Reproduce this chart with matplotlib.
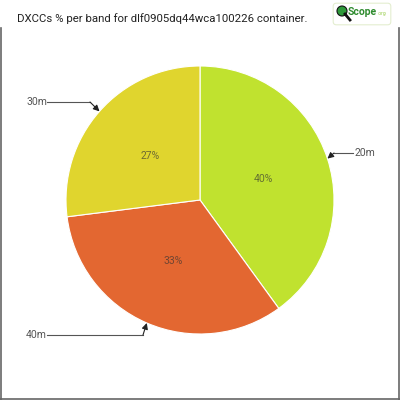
import numpy as np
import matplotlib.pyplot as plt
from matplotlib.patches import Circle, FancyBboxPatch

bands = ['20m', '40m', '30m']
shares = [40, 33, 27]
colors = ['#c0e22f', '#e36731', '#e0d52e']

# label / elbow positions in pixel space (figure is 400x400)
label_px = {'20m': (355, 153), '40m': (47, 335), '30m': (47, 102)}
elbow_px = {'20m': (334, 153), '40m': (143, 335), '30m': (90, 102)}
label_ha = {'20m': 'left', '40m': 'right', '30m': 'right'}

R = 134.0
def to_data(p):
    return ((p[0] - 200) / R, (200 - p[1]) / R)

fnt = ['Roboto', 'DejaVu Sans']

fig = plt.figure(figsize=(4, 4), dpi=100)
ax = fig.add_axes([0, 0, 1, 1])
lim = 200 / R

wedges, _ = ax.pie(shares, colors=colors, startangle=90, counterclock=False,
                   radius=1, center=(0, 0), frame=True,
                   wedgeprops=dict(edgecolor='white', linewidth=0.8))
ax.set_xlim(-lim, lim)
ax.set_ylim(-lim, lim)
ax.set_aspect('equal')
ax.axis('off')

for w, band, s in zip(wedges, bands, shares):
    mid = np.deg2rad((w.theta1 + w.theta2) / 2)
    # percent label
    ax.text(0.5 * np.cos(mid), 0.5 * np.sin(mid), f'{s}%', ha='center', va='center',
            fontsize=7.5, color='#333333', alpha=0.65, family=fnt)
    tip = (np.cos(mid), np.sin(mid))
    lx, ly = to_data(label_px[band])
    ex, ey = to_data(elbow_px[band])
    sx = lx - 2 / R if label_ha[band] == 'left' else lx
    ax.plot([sx, ex], [ly, ey], color='#555555', lw=0.8)
    ax.annotate('', xy=tip, xytext=(ex, ey),
                arrowprops=dict(arrowstyle='-|>', color='#222222', lw=0.8,
                                mutation_scale=9, shrinkA=0, shrinkB=0))
    ax.text(lx, ly, band, ha=label_ha[band], va='center', fontsize=7.5,
            color='#555555', family=fnt)

fig.text(17 / 400, 1 - 19 / 400, 'DXCCs % per band for dlf0905dq44wca100226 container.',
         ha='left', va='center', fontsize=8.2, color='#222222', family=fnt)

# frame lines
for xs, ys in [([0.003, 0.003], [0, 1 - 28 / 400]), ([0.997, 0.997], [0, 1 - 28 / 400]),
               ([0, 1], [0.003, 0.003])]:
    fig.add_artist(plt.Line2D(xs, ys, color='#666666', lw=1.2, transform=fig.transFigure))

# logo
fig.add_artist(FancyBboxPatch((334 / 400, 1 - 24 / 400), 56 / 400, 20 / 400,
                              boxstyle='round,pad=0.002,rounding_size=0.008',
                              transform=fig.transFigure, fc='white', ec='#e4eed0', lw=0.8))
fig.add_artist(plt.Line2D([345 / 400, 350 / 400], [1 - 14 / 400, 1 - 20 / 400],
                          color='#111111', lw=2, transform=fig.transFigure))
fig.add_artist(Circle((342 / 400, 1 - 11 / 400), 5 / 400, transform=fig.transFigure,
                      fc='#2e9a3a', ec='#111111', lw=0.8))
fig.text(348 / 400, 1 - 12 / 400, 'Scope', ha='left', va='center', fontsize=7.5,
         fontweight='bold', color='#2e8b2e', family=fnt)
fig.text(378 / 400, 1 - 14 / 400, '.org', ha='left', va='center', fontsize=3.5,
         color='#9acd50', family=fnt)

fig.savefig('out.png', dpi=100)
